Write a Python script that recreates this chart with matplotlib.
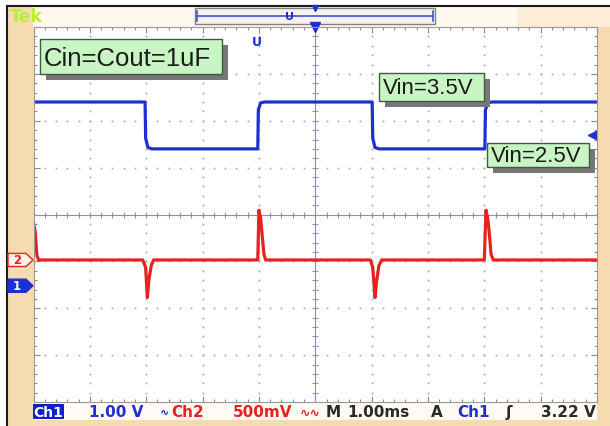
import numpy as np
import matplotlib
matplotlib.use("Agg")
import matplotlib.pyplot as plt
from matplotlib.patches import Rectangle, Polygon
from matplotlib.transforms import blended_transform_factory

# ---- data (time in ms, volts) ----
ch1_t = [0.0, 1.98, 1.99, 2.03, 2.10, 3.98, 3.99, 4.03, 4.10,
         6.01, 6.02, 6.06, 6.13, 8.01, 8.02, 8.06, 8.13, 10.0]
ch1_v = [3.92, 3.92, 3.15, 2.95, 2.92, 2.92, 3.75, 3.90, 3.92,
         3.92, 3.15, 2.95, 2.92, 2.92, 3.75, 3.90, 3.92, 3.92]

ch2_t = [0.0, 0.03, 0.06, 0.09,
         1.94, 1.99, 2.02, 2.05, 2.09, 2.13,
         3.98, 4.00, 4.03, 4.06, 4.09, 4.12,
         5.98, 6.02, 6.06, 6.09, 6.13, 6.18,
         8.00, 8.03, 8.06, 8.09, 8.12, 8.16, 10.0]
ch2_v = [0.40, 0.30, 0.05, 0.0,
         0.0, -0.08, -0.40, -0.20, -0.06, 0.0,
         0.0, 0.53, 0.45, 0.25, 0.06, 0.0,
         0.0, -0.08, -0.40, -0.22, -0.06, 0.0,
         0.0, 0.53, 0.45, 0.28, 0.06, 0.0, 0.0]

ch1_scale = 1.0     # V/div
ch2_scale = 0.5     # V/div
ch1_pos = -1.52     # div
ch2_pos = -0.97     # div
trig_level = 3.22   # V
notes = ["Cin=Cout=1uF", "Vin=3.5V", "Vin=2.5V"]

BLUE = "#1e30d4"
RED = "#e8221e"
DARK = "#2a2a2a"
BEIGE = "#f6dab0"
GRID = "#a8a8a8"

fig = plt.figure(figsize=(6.1, 4.27), dpi=100)
fig.patch.set_facecolor("white")

# background (pixel coords)
bg = fig.add_axes([0, 0, 1, 1], zorder=1)
bg.set_xlim(0, 610)
bg.set_ylim(427, 0)
bg.axis("off")
bg.add_patch(Rectangle((7, 7), 603, 420, facecolor=BEIGE, edgecolor="none"))
bg.add_patch(Rectangle((33, 8), 577, 20, facecolor="#fff8ee", edgecolor="none"))
bg.add_patch(Rectangle((435, 8), 82, 20, facecolor="#fffaf0", edgecolor="none"))
bg.add_patch(Rectangle((517, 8), 93, 20, facecolor="#fdecd6", edgecolor="none"))
bg.plot([7, 7], [7, 427], color="#1a1a1a", lw=1.5)
bg.plot([7, 610], [7, 7], color="#1a1a1a", lw=1.5)
bg.add_patch(Rectangle((33, 404), 564, 17, facecolor="#fffaf3", edgecolor="none"))
bg.text(10, 17, "Tek", color="#b8ee3c", fontsize=12.5, fontweight="bold",
        va="center", ha="left")

# record view bar
bg.add_patch(Rectangle((195, 9), 240, 16, facecolor="#fcf0f2", edgecolor="#808080", lw=1))
bg.plot([197, 433], [17, 17], color="#3a55d0", lw=1.2)
bg.plot([197, 197], [12, 22], color="#3a55d0", lw=1.2)
bg.plot([433, 433], [12, 22], color="#3a55d0", lw=1.2)
bg.text(290, 17.5, "U", color=BLUE, fontsize=8, fontweight="bold", ha="center", va="center")
bg.plot([315], [9], marker="v", color=BLUE, ms=4)

# scope graticule
ax = fig.add_axes([33.5 / 610, 24 / 427, 563.5 / 610, 375 / 427], zorder=2)
ax.set_xlim(0, 10)
ax.set_ylim(-4, 4)
ax.set_facecolor("white")
for s in ax.spines.values():
    s.set_color("#9a9a9a")
    s.set_linewidth(0.8)
ax.set_xticks(np.arange(0, 11, 1))
ax.set_xticks(np.arange(0, 10.01, 0.2), minor=True)
ax.set_yticks(np.arange(-4, 5, 1))
ax.set_yticks(np.arange(-4, 4.01, 0.2), minor=True)
ax.tick_params(which="both", direction="in", top=True, right=True,
               labelbottom=False, labelleft=False, color="#8a8a8a", width=0.8)
ax.tick_params(which="major", length=4)
ax.tick_params(which="minor", length=2.5)

dots_y = np.arange(-4, 4.01, 0.2)
dots_x = np.arange(0, 10.01, 0.2)
for gx in range(1, 10):
    if gx == 5:
        continue
    ax.plot(np.full(dots_y.size, gx), dots_y, ls="none", marker="s", ms=1.2,
            color=GRID, mew=0)
for gy in range(-3, 4):
    if gy == 0:
        continue
    ax.plot(dots_x, np.full(dots_x.size, gy), ls="none", marker="s", ms=1.2,
            color=GRID, mew=0)
# centre cross with ticks
ax.axhline(0, color="#8892b8", lw=0.8)
ax.axvline(5, color="#8892b8", lw=0.8)
ax.plot(dots_x, np.zeros(dots_x.size), ls="none", marker="|", ms=5, color="#8892b8", mew=0.8)
ax.plot(np.full(dots_y.size, 5), dots_y, ls="none", marker="_", ms=5, color="#8892b8", mew=0.8)

# traces
ax.plot(ch1_t, np.array(ch1_v) / ch1_scale + ch1_pos, color=BLUE, lw=2.3,
        solid_joinstyle="round")
ax.plot(ch2_t, np.array(ch2_v) / ch2_scale + ch2_pos, color=RED, lw=2.3,
        solid_joinstyle="round")

# trigger level arrow and trigger position
ax.plot([9.92], [trig_level / ch1_scale + ch1_pos], marker="<", color=BLUE, ms=6,
        clip_on=False)
ax.plot([5], [4.0], marker="v", color=BLUE, ms=7, clip_on=False)

# overlay (pixel coords) for notes and channel markers
ov = fig.add_axes([0, 0, 1, 1], zorder=3)
ov.set_xlim(0, 610)
ov.set_ylim(427, 0)
ov.axis("off")
ov.patch.set_alpha(0)

ov.text(257, 42, "U", color=BLUE, fontsize=9, fontweight="bold", ha="center", va="center")


def note(x, y, w, h, s, fs):
    ov.add_patch(Rectangle((x + 6, y + 6), w, h, facecolor="#777777", edgecolor="none"))
    ov.add_patch(Rectangle((x, y), w, h, facecolor="#c9f5c4", edgecolor="#405a40", lw=1))
    ov.text(x + 4, y + h / 2 + 1, s, fontsize=fs, family="Liberation Sans",
            color="#1a1a1a", ha="left", va="center")


note(40, 40, 182, 35, notes[0], 18.5)
note(379, 74, 105, 28, notes[1], 16)
note(487, 144, 102, 24, notes[2], 16)

# channel ground markers (x in pixels, y in scope divisions)
tr = blended_transform_factory(ov.transData, ax.transData)
for pos, face, edge, txt, tc in [(ch2_pos, "#fff2e6", RED, "2", RED),
                                 (ch1_pos, BLUE, BLUE, "1", "white")]:
    hh = 0.14
    ov.add_patch(Polygon([(8, pos + hh), (26, pos + hh), (33, pos), (26, pos - hh),
                          (8, pos - hh)], closed=True, facecolor=face,
                         edgecolor=edge, lw=1, transform=tr, clip_on=False))
    ov.text(17, pos, txt, color=tc, fontsize=8.5, fontweight="bold",
            ha="center", va="center", transform=tr)

# status bar
ov.add_patch(Rectangle((33, 405), 31, 15, facecolor="#1020c8", edgecolor="none"))
ov.text(48.5, 413, "Ch1", color="white", fontsize=10, fontweight="bold", ha="center", va="center")
status = [(89, "1.00 V", BLUE, 11), (160, "∿", BLUE, 8), (171, "Ch2", RED, 11),
          (233, "500mV", RED, 11), (300, "∿∿", RED, 9), (326, "M", DARK, 11),
          (347, "1.00ms", DARK, 11), (431, "A", DARK, 11), (457, "Ch1", BLUE, 11),
          (505, "ʃ", DARK, 11), (541, "3.22 V", DARK, 11)]
for x, s, c, fs in status:
    ov.text(x, 413, s, color=c, fontsize=fs, fontweight="bold", ha="left", va="center")

fig.savefig("out.png", dpi=100)
